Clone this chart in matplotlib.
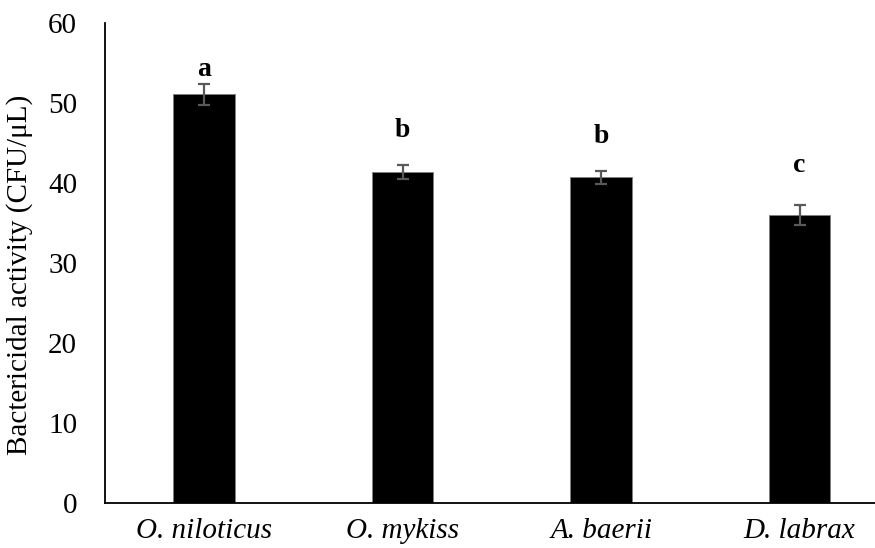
import matplotlib
matplotlib.use("Agg")
import matplotlib.pyplot as plt
import numpy as np

# Bactericidal activity per species (mean ± SE)
species = ["O. niloticus", "O. mykiss", "A. baerii", "D. labrax"]
activity = [51.1, 41.4, 40.7, 36.0]
errors = [1.3, 0.9, 0.8, 1.3]
letters = ["a", "b", "b", "c"]
letter_y = [53.4, 45.7, 45.0, 41.4]

plt.rcParams["font.family"] = ["Liberation Serif", "DejaVu Serif"]

fig = plt.figure(figsize=(8.75, 5.48), dpi=100)
ax = fig.add_axes([0.12, 0.082, 0.88, 0.876])

x = np.arange(len(species))
ax.bar(x, activity, width=0.31, color="black", edgecolor="#7f7f7f", linewidth=0.6,
       zorder=2)
ax.errorbar(x, activity, yerr=errors, fmt="none", ecolor="#595959",
            elinewidth=1.6, capsize=4.3, capthick=1.6, zorder=3)

for xi, lab, ly in zip(x, letters, letter_y):
    ax.text(xi, ly, lab, ha="center", va="baseline", fontsize=20,
            fontweight="bold")

ax.set_xlim(-0.5, 3.38)
ax.set_ylim(0, 60)
ax.set_yticks(range(0, 61, 10))
ax.set_xticks(x)
ax.set_xticklabels(species, fontstyle="italic", fontsize=21)
ax.tick_params(axis="both", length=0, labelsize=21)
ax.tick_params(axis="y", pad=20)
ax.tick_params(axis="x", pad=11)
ax.set_ylabel("Bactericidal activity (CFU/μL)", fontsize=21)
ax.yaxis.set_label_coords(-0.093, 0.475)

for side in ("top", "right"):
    ax.spines[side].set_visible(False)
for side in ("left", "bottom"):
    ax.spines[side].set_linewidth(1.3)

fig.savefig("out.png", dpi=100)
